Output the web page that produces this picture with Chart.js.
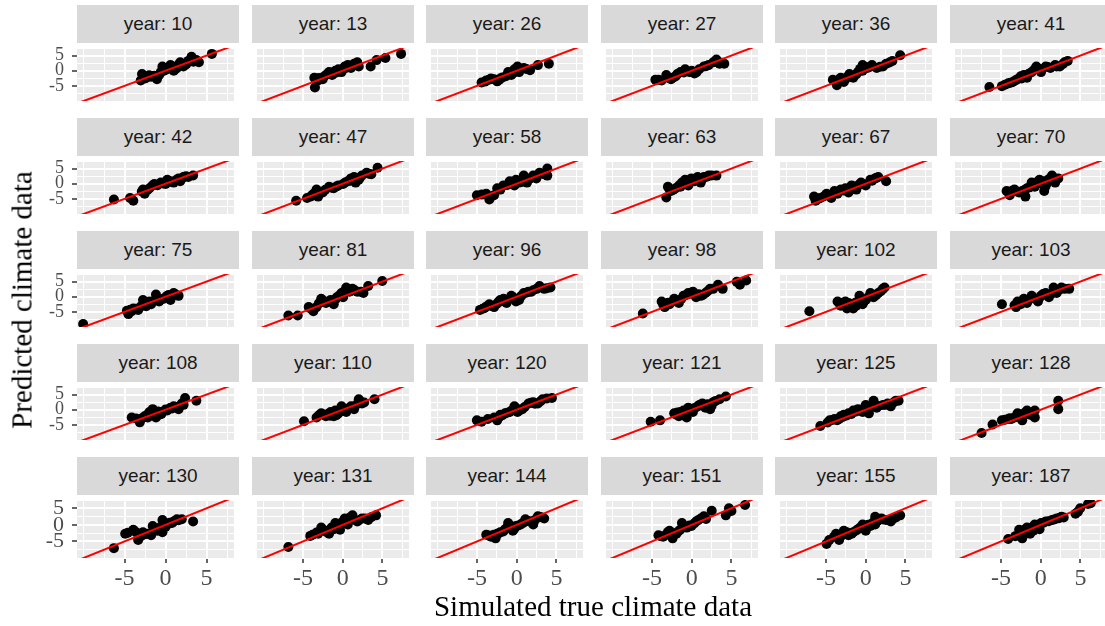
<!DOCTYPE html>
<html>
<head>
<meta charset="utf-8">
<script src="https://cdn.jsdelivr.net/npm/chart.js@4.4.0/dist/chart.umd.min.js"></script>
<style>
  html, body { margin: 0; padding: 0; background: #fff; overflow: hidden; }
  #wrap { position: relative; width: 1105px; height: 626px; overflow: hidden; }
  .strip { position: absolute; background: #D9D9D9; color: #1A1A1A; text-align: center;
           font: 19px "Liberation Sans", Arial, sans-serif; }
  .cell { position: absolute; }
  .axtitle { position: absolute; white-space: nowrap; color: #000;
             font-family: "Liberation Serif", "Times New Roman", serif;
             transform: translate(-50%, -50%); }
</style>
</head>
<body>
<div id="wrap"></div>
<script>
const years = [10, 13, 26, 27, 36, 41, 42, 47, 58, 63, 67, 70, 75, 81, 96, 98,
               102, 103, 108, 110, 120, 121, 125, 128, 130, 131, 144, 151, 155, 187];

// simulated true climate data (x), one array per panel
const simulated = [
  [-3.03,-2.87,-2.36,-1.76,-1.05,-0.78,-0.38,-0.19,0.21,0.6,1.0,1.39,1.79,2.18,2.57,3.17,3.76,4.07,5.65,-1.37,-0.58,0.4,1.59,2.77, -2.5,-2.0,-1.2,-0.2,0.9,1.2,2.4,3.4],
  [-3.5,-3.58,-3.1,-2.52,-1.72,-1.33,-0.93,-0.54,-0.15,0.25,0.64,1.04,1.43,1.83,2.02,3.52,4.27,5.38,7.35,-1.13,0.84,-2.32, -3.0,-2.0,-1.5,-0.3,0.4,1.2,1.6,-0.7],
  [-4.43,-3.84,-3.25,-2.46,-2.07,-1.36,-1.08,-0.68,-0.29,0.1,0.3,0.89,1.68,2.67,4.05,-2.85,-0.49, -4.0,-3.5,-1.8,-1.0,-0.1,0.5,1.2,-2.2],
  [-4.58,-3.2,-3.79,-2.61,-2.02,-1.42,-0.83,-0.24,0.35,0.94,1.53,2.13,2.72,3.11,3.51,4.1,-1.82, -4.2,-3.0,-2.3,-1.0,0.0,0.6,1.8,2.9,3.8],
  [-4.14,-3.63,-3.15,-2.56,-2.05,-1.57,-0.98,-0.39,-0.39,0.2,0.79,1.38,2.17,2.57,3.36,4.34,-2.76, -3.8,-3.4,-2.3,-1.2,-0.7,0.0,0.5,1.8,3.0],
  [-6.47,-4.89,-4.1,-3.51,-2.92,-2.13,-1.73,-1.14,-0.55,0.04,0.63,1.22,1.82,2.41,3.0,3.4,-2.52, -4.5,-3.8,-3.2,-2.4,-1.5,-0.8,-0.2,0.9,2.0,2.8],
  [-6.3,-4.33,-3.93,-2.75,-2.55,-1.37,-0.58,0.01,0.6,0.99,1.59,2.18,2.77,3.36,-0.98,-1.96,0.21,1.79, -2.9,-2.2,-1.6,-0.3,0.3,1.3,2.0,2.5],
  [-5.87,-4.49,-3.3,-3.1,-2.52,-1.72,-1.13,-0.54,0.05,0.64,1.04,1.43,2.02,2.42,3.01,3.6,4.39,-3.89,1.63, -4.0,-3.6,-2.2,-1.4,-0.8,0.3,1.0,2.2,3.3],
  [-5.02,-3.84,-3.45,-2.85,-2.46,-1.67,-0.88,-0.29,0.3,0.89,1.29,2.08,2.47,2.87,3.85,3.85,-2.07,-0.09, -4.4,-3.2,-2.2,-1.2,-0.6,0.6,1.6,2.3,3.3],
  [-3.0,-3.2,-2.61,-2.02,-1.23,-0.83,-0.43,-0.04,0.35,0.75,1.14,1.53,2.13,3.11,-0.24,-1.42, -2.8,-2.3,-1.6,-1.0,-0.6,0.1,0.6,1.3,1.9,2.5],
  [-6.51,-6.31,-5.72,-4.93,-4.34,-3.94,-3.15,-2.56,-2.17,-1.77,-1.18,-0.59,0.0,0.59,1.19,1.58,2.57,-3.55, -6.0,-5.3,-4.6,-3.7,-2.8,-1.5,-0.9,-0.3,0.8,1.3],
  [-4.3,-3.9,-3.31,-2.72,-1.93,-1.73,-1.14,-0.75,-0.15,0.24,0.44,0.83,1.42,1.82,2.21,-2.33,-0.55, -4.0,-3.6,-3.0,-2.0,-1.4,-0.9,-0.4,0.5,1.0,1.6,0.6],
  [-10.05,-4.72,-4.53,-3.93,-3.34,-2.75,-2.36,-1.76,-1.17,-0.78,-0.19,0.21,0.6,0.99,1.59,-4.13,-1.96, -4.3,-3.6,-3.0,-2.1,-1.4,-0.6,0.0,0.4,1.2],
  [-6.85,-5.67,-4.29,-3.7,-3.3,-2.71,-2.12,-1.53,-1.13,-0.74,-0.15,0.44,0.84,1.23,1.83,2.61,3.21,4.98,0.05, -4.0,-3.0,-2.4,-1.8,-0.9,-0.4,0.2,0.6,1.0,1.5,2.3],
  [-4.63,-4.04,-3.45,-2.85,-2.26,-1.67,-1.28,-0.68,-0.09,0.3,0.89,1.48,2.08,2.87,3.46,4.25,-2.07, -4.3,-3.8,-3.1,-2.5,-1.9,-1.0,-0.4,0.6,1.2,1.8,2.5,3.8],
  [-6.16,-3.79,-3.4,-2.8,-2.21,-1.62,-1.03,-0.44,0.15,0.55,1.14,1.73,2.32,3.31,3.9,5.68,6.07,6.86,-2.41, -3.6,-3.0,-2.0,-1.3,-0.7,-0.2,0.4,0.9,1.4,2.0,2.7],
  [-7.1,-3.55,-3.15,-2.56,-2.36,-1.77,-1.57,-0.98,-0.79,-0.39,0.0,0.59,0.99,1.58,2.17,2.37,-2.17, -3.3,-2.9,-2.7,-2.0,-1.3,-1.2,-0.6,-0.2,0.3,0.8,1.3,1.9],
  [-4.89,-3.11,-2.92,-2.13,-1.73,-1.14,-0.35,0.04,0.63,1.03,1.62,2.01,2.61,3.59,-2.52, -3.3,-2.7,-2.4,-1.5,-0.8,-0.2,0.3,1.3,1.8,2.3,3.0],
  [-4.13,-3.14,-2.55,-1.96,-1.57,-1.17,-0.78,-0.38,0.21,0.6,1.0,1.59,1.98,2.38,3.76,-2.16, -3.6,-2.8,-2.2,-1.4,-0.9,-0.5,0.0,0.8,1.3,2.2],
  [-4.88,-3.3,-2.71,-2.12,-1.53,-1.13,-0.54,-0.15,0.44,1.04,1.43,2.02,2.42,4.0,-2.32,-0.94, -3.0,-2.5,-1.8,-1.6,-0.8,-0.4,0.1,0.7,1.2,1.8,2.2,2.7],
  [-5.02,-4.43,-3.64,-2.46,-2.07,-1.47,-0.88,-0.29,0.1,0.7,1.48,2.08,2.67,3.26,4.44,-2.85, -2.6,-2.2,-1.8,-1.2,-0.6,0.0,0.4,1.0,1.8,2.3,3.0,3.8],
  [-5.17,-3.99,-2.21,-1.62,-1.03,-0.63,-0.44,0.15,0.75,1.34,1.73,2.32,2.72,3.51,4.3,-1.42, -2.0,-1.8,-1.2,-0.9,-0.5,0.0,0.4,1.0,1.5,2.0,2.5,3.0],
  [-5.72,-4.53,-3.94,-3.35,-2.76,-2.17,-1.57,-0.98,-0.39,0.0,0.4,0.99,1.38,2.17,2.76,3.16,4.14,-3.15, -4.8,-4.2,-3.6,-2.9,-2.4,-1.8,-1.2,-0.6,0.2,0.8,1.6,2.5,3.5,3.8],
  [-7.45,-6.07,-4.89,-4.1,-3.31,-2.92,-2.33,-1.73,-1.34,-0.75,-0.75,2.21,2.21,-3.71, -4.5,-3.9,-3.0,-2.6,-2.0,-1.6,-1.2,-0.9],
  [-6.3,-4.92,-3.93,-3.34,-2.75,-1.76,-1.57,-0.98,-0.38,-0.38,0.21,0.8,1.39,1.98,3.36,-2.16, -4.6,-3.6,-3.0,-2.5,-1.3,-0.7,0.0,0.5,1.1,1.6],
  [-6.85,-4.09,-3.1,-2.71,-1.72,-1.13,-0.93,-0.34,0.25,0.64,1.23,1.83,2.42,3.21,4.2,-2.12,0.84, -3.8,-3.3,-2.4,-2.0,-1.4,-0.6,-0.1,0.4,0.9,1.4,2.0,2.8,3.6],
  [-3.84,-3.25,-2.66,-2.07,-1.47,-1.08,-0.49,-0.09,0.5,1.09,1.68,2.08,2.67,3.46,-2.46, -3.5,-2.9,-2.3,-1.7,-1.2,-0.7,-0.3,0.2,0.8,1.4,2.3,3.0],
  [-4.19,-3.6,-2.8,-2.41,-1.82,-1.23,-0.63,-0.04,0.55,1.14,1.53,2.52,4.3,4.69,6.72,-1.93, -3.9,-3.2,-3.0,-2.2,-1.5,-1.0,-0.3,0.3,0.8,1.8,5.0],
  [-4.93,-3.74,-3.35,-2.76,-2.17,-1.57,-0.98,-0.39,0.0,0.59,1.19,1.19,1.98,2.57,3.16,4.34,-1.77, -4.6,-4.0,-3.0,-2.4,-2.0,-1.2,-0.7,-0.2,0.3,0.9,1.5,2.2,3.4,3.8],
  [-4.1,-2.72,-2.33,-1.73,-1.34,-0.75,-0.15,0.04,0.63,1.42,2.01,2.61,4.38,4.98,5.96,-0.94, -3.2,-2.5,-2.0,-1.5,-1.0,-0.4,0.3,1.0,1.7,2.3,2.9,4.7,6.3]
];

// predicted climate data (y), same order
const predicted = [
  [-3.24,-1.1,-2.3,-2.0,-2.8,-1.4,1.4,0,0.46,1.85,0,0.9,2.8,1.4,2.3,4.6,3.5,2.8,5.55,-1.67,-0.47,1.1,2.0,3.24, -2.6,-1.5,-1.9,0.9,1.3,0.5,1.9,3.0],
  [-5.56,-2.32,-3.24,-2.8,-0.46,-1.39,0,0.46,-0.46,1.39,1.85,0.93,2.3,2.78,1.39,1.39,3.5,4.17,5.55,-0.93,1.39,-1.85, -2.4,-1.2,-0.8,0.2,0.9,1.6,1.9,-0.5],
  [-3.89,-3.24,-2.6,-3.52,-2.6,-1.85,-0.46,-1.39,0.46,1.39,-0.46,0.93,0.19,1.85,2.3,-2.78,-0.93, -3.6,-3.0,-2.2,-1.0,0.0,0.6,0.6,-3.0],
  [-2.96,-1.39,-3.24,-2.78,-1.85,-0.46,0.46,-0.46,-0.93,0.46,1.39,1.85,2.78,3.7,2.3,2.3,-1.1, -3.0,-2.3,-2.2,-0.6,0.0,-0.5,1.5,2.9,2.6],
  [-2.96,-4.82,-2.32,-2.78,-1.11,-2.32,-0.46,1.85,0,0.93,1.85,0.93,1.39,2.3,3.24,5.09,-3.7, -3.5,-3.0,-2.0,-1.2,0.6,1.2,1.2,1.3,2.7],
  [-5.37,-5.09,-4.17,-3.7,-2.78,-1.39,-2.32,-0.46,1.39,-0.46,1.39,0.93,1.85,1.39,2.78,3.24,-1.85, -4.6,-4.0,-3.2,-2.6,-1.0,0.4,0.6,1.2,1.4,2.2],
  [-5.2,-4.7,-5.65,-1.94,-3.3,-0.1,0.37,-0.1,0.83,0.37,1.76,2.2,2.2,2.7,-0.5,-1.48,1.3,0.83, -2.6,-2.1,-0.6,0.1,0.6,1.2,1.7,2.5],
  [-5.65,-4.7,-1.94,-4.26,-2.87,-1.02,-1.48,-0.56,-0.1,0.83,1.76,2.2,1.3,2.7,3.6,3.1,5.28,-3.8,0.37, -4.2,-3.2,-2.0,-1.3,-0.9,0.4,1.0,2.1,3.3],
  [-3.8,-3.33,-5.19,-3.8,-1.48,-0.56,0.83,-0.56,0.37,2.68,0.37,2.68,1.76,3.61,5.0,2.68,-1.94,1.3, -3.6,-4.2,-1.8,-0.4,0.2,0.6,1.6,2.4,3.2],
  [-1.02,-4.54,-2.41,-1.48,0.37,1.3,-0.56,1.76,0.83,2.22,0.37,2.22,2.68,2.68,0.37,-1.02, -1.8,-2.0,-0.6,-0.2,0.8,0.9,1.4,1.4,2.3,2.7],
  [-4.26,-5.65,-4.73,-3.33,-4.73,-2.41,-1.94,-1.48,-2.87,-0.56,-1.94,0.37,-0.56,1.3,1.76,2.22,0.83,-3.33, -5.0,-4.2,-3.8,-2.9,-2.2,-1.2,-0.4,-0.1,1.0,1.9],
  [-2.41,-3.8,-1.94,-2.87,-4.26,-1.48,0.37,-1.02,1.3,-0.1,-2.41,0.37,2.68,0.37,1.76,-2.41,0.37, -3.0,-2.3,-2.6,-2.0,-1.2,-0.4,0.4,0.8,1.5,1.9,-0.9],
  [-8.98,-4.63,-5.74,-3.89,-4.35,-1.11,-3.15,-2.5,0.74,-1.57,-0.65,0.28,-1.11,1.2,0.28,-4.81,-1.57, -4.3,-4.0,-3.2,-2.3,-1.4,-0.8,-0.2,0.6,0.8],
  [-6.2,-6.2,-3.43,-4.81,-3.43,-0.65,-2.04,-1.11,-2.5,-0.19,1.2,3.06,1.67,2.59,1.67,1.2,3.52,5.19,-0.19, -4.0,-2.2,-1.4,-1.6,-0.8,0.5,1.8,2.6,2.0,2.1,1.6],
  [-4.35,-3.7,-2.5,-3.43,-1.57,-0.65,-2.04,0.28,-1.57,-1.11,1.2,1.67,2.13,3.52,2.59,3.06,-1.11, -4.0,-3.2,-3.1,-2.3,-1.5,-0.8,-0.3,0.3,1.3,1.6,2.6,2.8],
  [-5.56,-1.57,-3.43,-2.5,-0.65,-2.04,0.28,1.2,1.67,-0.19,0.28,1.2,2.59,3.98,2.59,4.91,3.98,5.37,-1.57, -2.6,-2.0,-1.4,-0.7,0.6,1.0,0.8,0.8,0.6,1.8,2.6],
  [-4.82,-1.57,-2.96,-1.57,-3.89,-2.5,-3.89,-1.57,0.28,-2.5,-1.11,1.2,-0.19,1.2,2.59,3.06,-2.04, -2.2,-2.0,-2.6,-3.0,-2.0,-3.0,-0.9,-1.5,-0.2,0.6,0.5,1.8],
  [-2.5,-3.43,-1.57,-0.65,-2.04,0.28,-1.57,0.28,1.2,-0.19,3.06,1.2,3.06,2.59,-2.5, -2.8,-2.0,-1.6,-1.0,-0.6,-0.5,0.9,0.9,2.0,2.2,2.6],
  [-2.59,-4.17,-2.13,-0.74,0.19,-2.59,-1.67,-0.74,-0.28,0.65,1.11,0.19,2.04,3.89,2.96,-2.59, -2.9,-2.7,-1.6,-1.0,-0.6,-1.4,0.1,0.4,0.9,1.6],
  [-3.8,-2.59,-1.2,-2.13,-0.74,-2.13,-1.2,1.11,-0.74,1.11,0.19,3.43,2.04,3.43,-1.67,-0.28, -1.8,-1.6,-1.3,-2.0,-1.8,-0.6,-0.2,0.4,1.0,1.8,2.8,2.4],
  [-3.52,-3.98,-3.06,-3.52,-1.67,-1.2,-0.74,1.11,-0.74,0.19,2.04,2.5,2.04,3.43,3.89,-2.59, -2.8,-2.4,-1.8,-1.0,-0.2,0.4,-0.2,0.9,2.3,2.0,2.8,3.7],
  [-3.98,-3.52,-1.2,-2.13,-0.28,-2.59,0.65,-0.74,1.11,2.04,0.65,0.19,2.5,3.43,4.35,-0.74, -1.6,-0.9,-1.3,-2.0,-0.2,0.3,0.6,1.6,1.2,1.8,1.2,2.9],
  [-5.37,-3.52,-3.06,-3.06,-1.67,-1.2,-0.28,0.19,-0.74,1.57,-1.2,2.96,0.65,1.57,2.04,1.11,2.96,-2.13, -4.2,-3.4,-3.5,-2.4,-1.9,-1.4,-0.6,0.0,0.4,1.4,1.2,1.6,2.4,3.0],
  [-7.69,-4.91,-3.52,-3.06,-2.59,-1.2,-3.52,-0.28,-1.67,-2.59,-0.28,2.96,0.19,-3.06, -3.3,-2.8,-2.4,-1.6,-1.0,-0.8,-1.0,-1.8],
  [-7.03,-2.69,-1.48,-4.54,-2.22,-3.15,-0.37,-1.76,1.48,-2.22,0.09,0.56,1.67,1.67,1.02,-2.69, -2.4,-2.2,-3.4,-2.8,-1.2,-0.8,-0.6,0.6,1.2,1.4],
  [-6.66,-3.33,-2.69,-0.83,-2.69,-1.3,0.56,-1.48,1.94,0.09,2.87,1.02,1.94,1.48,2.87,-1.76,1.48, -3.0,-2.3,-1.6,-2.2,-0.8,-0.4,0.8,1.4,2.2,1.6,1.3,1.9,2.3],
  [-2.96,-3.61,-4.07,-2.22,-1.3,0.56,-1.76,-0.37,0.09,1.67,1.02,0.09,2.59,1.94,-2.69, -3.2,-3.0,-2.6,-2.0,-0.8,-0.4,-1.2,-0.2,0.6,1.2,1.5,2.4],
  [-3.15,-3.61,-1.76,-4.07,-2.22,0.56,-0.83,-0.37,1.02,1.94,2.59,4.26,2.87,5.0,6.0,-2.69, -3.4,-3.0,-2.2,-2.6,-1.6,-0.4,-0.2,0.4,1.4,1.8,4.2],
  [-5.74,-2.69,-4.54,-1.76,-3.15,-2.22,-1.3,0.09,-1.76,-0.37,2.41,0.09,1.94,1.48,1.02,2.87,-2.69, -4.6,-3.6,-3.2,-2.2,-2.6,-1.7,-0.8,-0.6,0.0,0.6,1.2,1.6,1.8,2.2],
  [-4.26,-1.48,-4.07,-0.83,-2.69,0.09,-1.3,0.56,1.02,1.48,1.94,2.41,3.33,5.0,6.3,-1.76, -3.4,-2.6,-1.4,-1.6,-0.6,-0.4,0.6,1.1,1.6,2.0,2.2,4.0,6.5]
];

const majorTicks = [-5, 0, 5];
const minorTicks = [-10, -7.5, -2.5, 2.5, 7.5];
const refLine = [-12, 10];   // y = x reference line end points

// layout of the facet grid (page pixels)
const nCols = 6, nRows = 5;
const panelLeft = 77, colStep = 174.6, panelW = 162;
const stripTop = 5, rowStep = 113, stripH = 38, panelH = 63;
const yAxisW = 47, xAxisH = 40;

const wrap = document.getElementById('wrap');

const panelBg = {
  id: 'panelBg',
  beforeDraw(chart) {
    const { ctx, chartArea: a } = chart;
    ctx.save();
    ctx.fillStyle = '#EBEBEB';
    ctx.fillRect(a.left, a.top, a.right - a.left, a.bottom - a.top);
    ctx.restore();
  }
};

const allTicks = [...minorTicks, ...majorTicks].sort((a, b) => a - b);
const isMajor = v => majorTicks.includes(v);

function axisOptions(show, min, max, fontSize, isX) {
  return {
    type: 'linear',
    min: min,
    max: max,
    display: true,
    afterBuildTicks: s => { s.ticks = allTicks.map(v => ({ value: v })); },
    afterFit: s => {
      if (isX) s.height = show ? xAxisH : 0;
      else s.width = show ? yAxisW : 0;
      // empty minor labels must not shrink the panel
      s.paddingTop = s.paddingBottom = s.paddingLeft = s.paddingRight = 0;
    },
    border: { display: false },
    grid: {
      color: '#FFFFFF',
      lineWidth: c => (c.tick && isMajor(c.tick.value)) ? 2 : 1,
      drawTicks: show,
      tickLength: 5,
      tickWidth: 1.5,
      tickColor: c => (c.tick && isMajor(c.tick.value)) ? '#333333' : 'rgba(0,0,0,0)'
    },
    ticks: {
      display: show,
      autoSkip: false,
      maxRotation: 0,
      padding: isX ? 1 : 8,
      color: '#4D4D4D',
      font: { family: '"Liberation Serif", "Times New Roman", serif', size: fontSize },
      callback: v => isMajor(v) ? String(v) : ''
    }
  };
}

years.forEach((yr, i) => {
  const col = i % nCols, row = Math.floor(i / nCols);
  const left = Math.round(panelLeft + col * colStep);
  const top = stripTop + row * rowStep;

  const strip = document.createElement('div');
  strip.className = 'strip';
  strip.style.left = left + 'px';
  strip.style.top = top + 'px';
  strip.style.width = panelW + 'px';
  strip.style.height = stripH + 'px';
  strip.style.lineHeight = stripH + 'px';
  strip.textContent = 'year: ' + yr;
  wrap.appendChild(strip);

  const showY = col === 0, showX = row === nRows - 1;
  const cw = panelW + (showY ? yAxisW : 0);
  const ch = panelH + (showX ? xAxisH : 0);

  const cell = document.createElement('div');
  cell.className = 'cell';
  cell.style.left = (left - (showY ? yAxisW : 0)) + 'px';
  cell.style.top = (top + stripH) + 'px';
  const canvas = document.createElement('canvas');
  canvas.width = cw;
  canvas.height = ch;
  canvas.style.width = cw + 'px';
  canvas.style.height = ch + 'px';
  cell.appendChild(canvas);
  wrap.appendChild(cell);

  const pts = simulated[i].map((x, k) => ({ x: x, y: predicted[i][k] }));

  new Chart(canvas.getContext('2d'), {
    type: 'scatter',
    data: {
      datasets: [
        {
          type: 'line',
          data: refLine.map(v => ({ x: v, y: v })),
          borderColor: '#FF0000',
          borderWidth: 2,
          pointRadius: 0,
          fill: false
        },
        {
          data: pts,
          backgroundColor: '#000000',
          borderWidth: 0,
          pointRadius: 5
        }
      ]
    },
    options: {
      responsive: false,
      animation: false,
      events: [],
      layout: { padding: 0 },
      plugins: { legend: { display: false }, tooltip: { enabled: false } },
      scales: {
        x: axisOptions(showX, -10.8, 8.35, 24, true),
        y: axisOptions(showY, -10, 7.5, showX ? 22 : 18, false)
      }
    },
    plugins: [panelBg]
  });
});

// overall axis titles
const xTitle = document.createElement('div');
xTitle.className = 'axtitle';
xTitle.style.fontSize = '29px';
xTitle.style.left = '593px';
xTitle.style.top = '606px';
xTitle.textContent = 'Simulated true climate data';
wrap.appendChild(xTitle);

const yTitle = document.createElement('div');
yTitle.className = 'axtitle';
yTitle.style.fontSize = '29px';
yTitle.style.left = '22px';
yTitle.style.top = '300px';
yTitle.style.transform = 'translate(-50%, -50%) rotate(-90deg)';
yTitle.textContent = 'Predicted climate data';
wrap.appendChild(yTitle);
</script>
</body>
</html>
